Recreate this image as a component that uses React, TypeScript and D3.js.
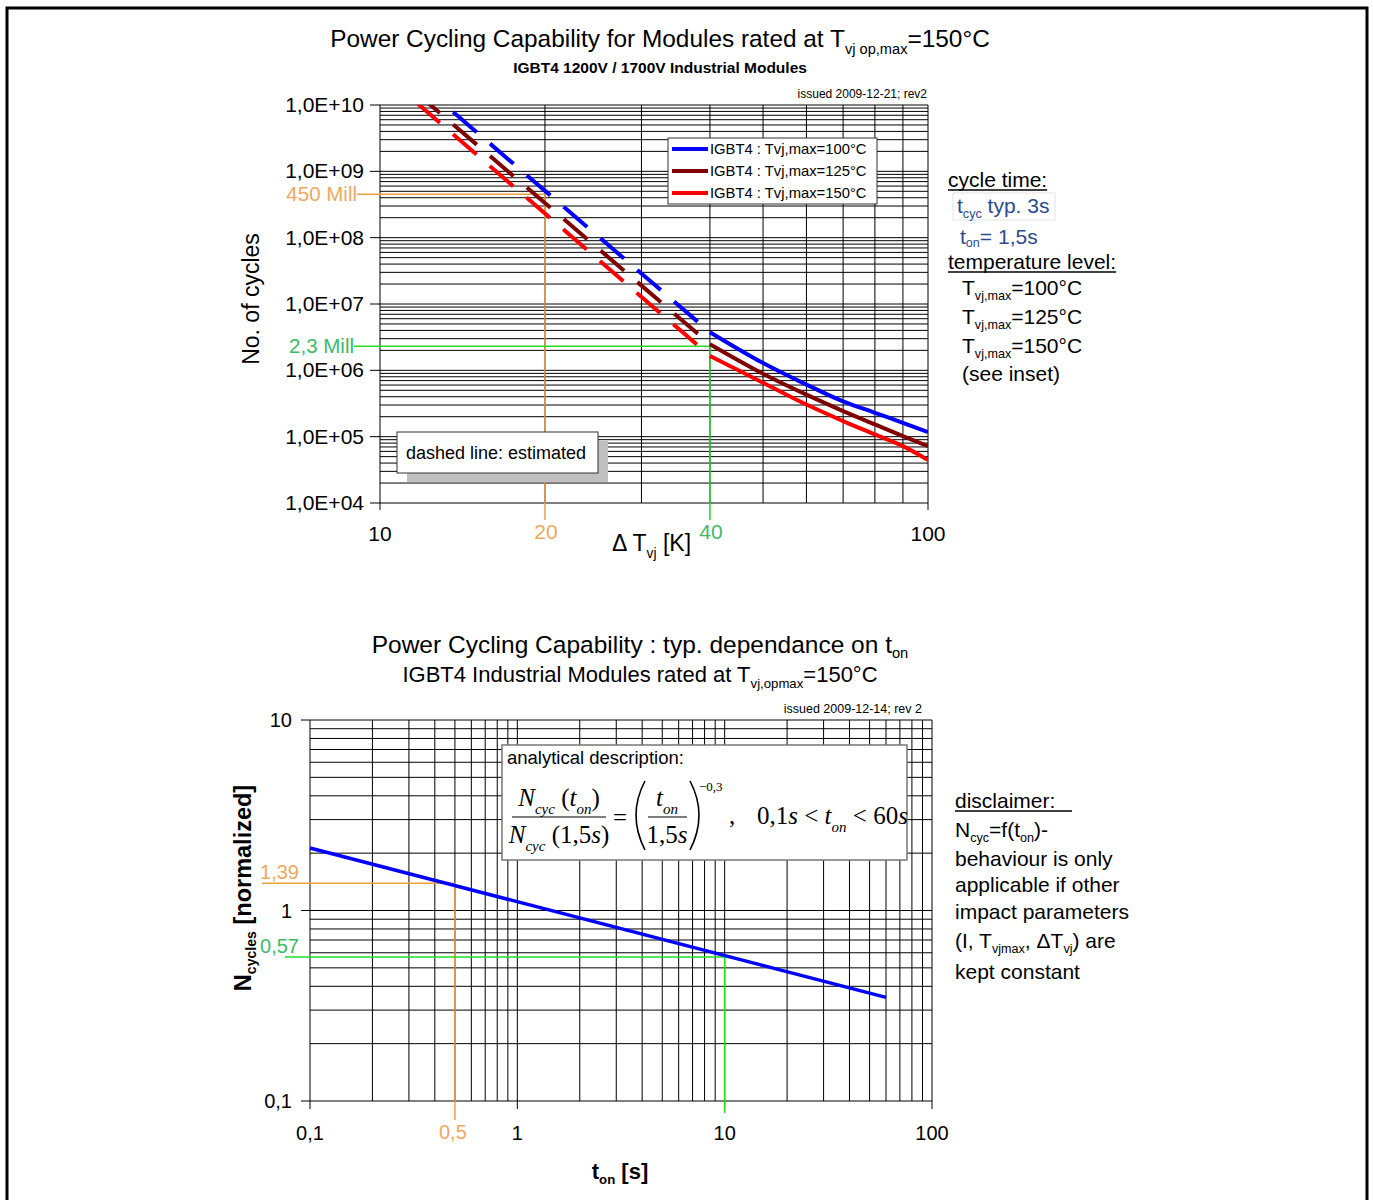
import React, { useEffect, useRef } from 'react';
import * as d3 from 'd3';

const SANS = "'Liberation Sans', Arial, Helvetica, sans-serif";
const SERIF = "'Liberation Serif', 'Times New Roman', serif";

// ---- top chart: number of cycles vs. delta T ----
const cycTicks = [1e4, 1e5, 1e6, 1e7, 1e8, 1e9, 1e10];
const dtTicks = [10, 100];
const dtMinor = [20, 30, 40, 50, 60, 70, 80, 90];
const decadeSteps = [2, 3, 4, 5, 6, 7, 8, 9];

const seriesLabels = ['IGBT4 : Tvj,max=100°C', 'IGBT4 : Tvj,max=125°C', 'IGBT4 : Tvj,max=150°C'];
const seriesColors = ['#0000ff', '#800000', '#ff0000'];

// measured part (solid)
const measuredDT = [40, 50, 60, 70, 80, 90, 100];
const measured100 = [3.76e6, 1.29e6, 6.1e5, 3.4e5, 2.29e5, 1.62e5, 1.17e5];
const measured125 = [2.48e6, 8.9e5, 4.3e5, 2.43e5, 1.53e5, 1.02e5, 7.2e4];
const measured150 = [1.65e6, 6.5e5, 3.05e5, 1.72e5, 1.08e5, 7.2e4, 4.45e4];

// estimated part (dashed)
const estimatedDT = [11.65, 40];
const estimated100 = [2.34e10, 3.76e6];
const estimated125 = [1.52e10, 2.48e6];
const estimated150 = [1.09e10, 1.65e6];

const markDT = [20, 40];
const markCycles = [4.5e8, 2.3e6];
const markLabels = ['450 Mill', '2,3 Mill'];

// ---- bottom chart: normalized cycles vs. t_on ----
const tonTicks = [0.1, 1, 10, 100];
const tonTickLabels = ['0,1', '1', '10', '100'];
const normTicks = [0.1, 1, 10];
const normTickLabels = ['0,1', '1', '10'];
const tonLine = [0.1, 60];
const normLine = [2.13, 0.35];
const tonMarks = [0.5, 10];
const normMarks = [1.39, 0.57];
const tonMarkLabels = ['0,5', ''];
const normMarkLabels = ['1,39', '0,57'];

const ORANGE_LINE = '#eea040';
const ORANGE_TEXT = '#f0a860';
const GREEN_LINE = '#22dd22';
const GREEN_TEXT = '#3dbb6a';

type Part = { t: string; sub?: boolean; sup?: boolean; italic?: boolean };

function richText(parent: any, x: number, y: number, parts: Part[], size: number, attrs: Record<string, any> = {}, subShift = 0.3) {
  const text = parent.append('text')
    .attr('x', x).attr('y', y)
    .attr('font-size', size)
    .attr('font-family', SANS)
    .attr('fill', '#000');
  Object.entries(attrs).forEach(([k, v]) => text.attr(k, v));
  let shift = 0;
  parts.forEach(p => {
    const target = p.sub ? size * subShift : p.sup ? -size * 0.5 : 0;
    const span = text.append('tspan').attr('dy', target - shift).text(p.t);
    if (p.sub || p.sup) span.attr('font-size', size * 0.6);
    if (p.italic) span.attr('font-style', 'italic');
    shift = target;
  });
  return text;
}

function underline(parent: any, text: any, color = '#000') {
  const node = text.node() as SVGTextElement;
  const x = +text.attr('x');
  const y = +text.attr('y');
  const w = node.getComputedTextLength();
  parent.append('line')
    .attr('x1', x).attr('x2', x + w)
    .attr('y1', y + 3).attr('y2', y + 3)
    .attr('stroke', color).attr('stroke-width', 1.3);
}

const App: React.FC = () => {
  const svgRef = useRef<SVGSVGElement>(null);

  useEffect(() => {
    if (!svgRef.current) return;
    const svg = d3.select(svgRef.current);
    svg.selectAll('*').remove();

    // page frame
    svg.append('path')
      .attr('d', 'M7,1215 V8 H1367 V1215')
      .attr('fill', 'none').attr('stroke', '#000').attr('stroke-width', 3);

    // ================= TOP CHART =================
    const xTop = d3.scaleLog().domain([10, 100]).range([380, 928]);
    const yTop = d3.scaleLog().domain([1e4, 1e10]).range([503, 105]);
    const top = svg.append('g');

    richText(top, 660, 47, [{ t: 'Power Cycling Capability for Modules rated at T' }, { t: 'vj op,max', sub: true }, { t: '=150°C' }], 24.4, { 'text-anchor': 'middle' });
    richText(top, 660, 73, [{ t: 'IGBT4 1200V / 1700V Industrial Modules' }], 15.5, { 'text-anchor': 'middle', 'font-weight': 'bold' });
    richText(top, 927, 98, [{ t: 'issued 2009-12-21; rev2' }], 12, { 'text-anchor': 'end' });

    // grid
    const hLines: number[] = [];
    cycTicks.forEach(d => {
      hLines.push(d);
      if (d < 1e10) decadeSteps.forEach(k => hLines.push(d * k));
    });
    top.append('g').selectAll('line').data(hLines).join('line')
      .attr('x1', xTop(10)).attr('x2', xTop(100))
      .attr('y1', d => yTop(d)).attr('y2', d => yTop(d))
      .attr('stroke', '#000').attr('stroke-width', 1);
    top.append('g').selectAll('line').data([...dtTicks, ...dtMinor]).join('line')
      .attr('x1', d => xTop(d)).attr('x2', d => xTop(d))
      .attr('y1', yTop(1e4)).attr('y2', yTop(1e10))
      .attr('stroke', '#000').attr('stroke-width', 1);

    // y axis ticks + labels
    top.append('g').selectAll('line').data(cycTicks).join('line')
      .attr('x1', 370).attr('x2', xTop(10))
      .attr('y1', d => yTop(d)).attr('y2', d => yTop(d))
      .attr('stroke', '#000');
    top.append('g').selectAll('text').data(cycTicks).join('text')
      .attr('x', 364).attr('y', d => yTop(d) + 7)
      .attr('text-anchor', 'end').attr('font-family', SANS).attr('font-size', 21)
      .text(d => `1,0E+${String(Math.round(Math.log10(d))).padStart(2, '0')}`);
    // x ticks
    top.append('g').selectAll('line').data(dtTicks).join('line')
      .attr('x1', d => xTop(d)).attr('x2', d => xTop(d))
      .attr('y1', yTop(1e4)).attr('y2', yTop(1e4) + 7)
      .attr('stroke', '#000');
    top.append('g').selectAll('text').data(dtTicks).join('text')
      .attr('x', d => xTop(d)).attr('y', 541)
      .attr('text-anchor', 'middle').attr('font-family', SANS).attr('font-size', 21)
      .text(d => String(d));

    richText(top, 612, 551, [{ t: 'Δ T' }, { t: 'vj', sub: true }, { t: ' [K]' }], 23);
    richText(top, 259, 299, [{ t: 'No. of cycles' }], 23, { 'text-anchor': 'middle', transform: 'rotate(-90,259,299)' });

    // marker lines (450 Mill @ 20K, 2,3 Mill @ 40K)
    const markColors = [ORANGE_LINE, GREEN_LINE];
    const markTextColors = [ORANGE_TEXT, GREEN_TEXT];
    const markStart = [357, 354];
    markDT.forEach((dt, i) => {
      const y = yTop(markCycles[i]);
      const x = xTop(dt);
      top.append('line').attr('x1', markStart[i]).attr('x2', x).attr('y1', y).attr('y2', y)
        .attr('stroke', markColors[i]).attr('stroke-width', 1.5);
      top.append('line').attr('x1', x).attr('x2', x).attr('y1', y).attr('y2', 520)
        .attr('stroke', markColors[i]).attr('stroke-width', 1.5);
      top.append('text').attr('x', markStart[i]).attr('y', y + 7)
        .attr('text-anchor', 'end').attr('font-family', SANS).attr('font-size', 20.5)
        .attr('fill', markTextColors[i]).text(markLabels[i]);
      top.append('text').attr('x', x + 1).attr('y', 539)
        .attr('text-anchor', 'middle').attr('font-family', SANS).attr('font-size', 21)
        .attr('fill', markTextColors[i]).text(String(dt));
    });

    // curves
    top.append('clipPath').attr('id', 'topClip').append('rect')
      .attr('x', xTop(10)).attr('y', yTop(1e10))
      .attr('width', xTop(100) - xTop(10)).attr('height', yTop(1e4) - yTop(1e10));
    const curveG = top.append('g').attr('clip-path', 'url(#topClip)');
    const line = d3.line<[number, number]>()
      .x(d => xTop(d[0])).y(d => yTop(d[1]))
      .curve(d3.curveMonotoneX);
    const measured = [measured100, measured125, measured150];
    const estimated = [estimated100, estimated125, estimated150];
    measured.forEach((vals, i) => {
      curveG.append('path')
        .attr('d', line(measuredDT.map((d, j) => [d, vals[j]] as [number, number])))
        .attr('fill', 'none').attr('stroke', seriesColors[i]).attr('stroke-width', 4);
    });
    estimated.forEach((vals, i) => {
      curveG.append('path')
        .attr('d', line(estimatedDT.map((d, j) => [d, vals[j]] as [number, number])))
        .attr('fill', 'none').attr('stroke', seriesColors[i]).attr('stroke-width', 4)
        .attr('stroke-dasharray', '31 17.5');
    });

    // legend
    const lg = top.append('g').attr('transform', 'translate(668,138)');
    lg.append('rect').attr('width', 209).attr('height', 66)
      .attr('fill', '#fff').attr('stroke', '#333').attr('stroke-width', 1);
    seriesLabels.forEach((s, i) => {
      lg.append('line').attr('x1', 4).attr('x2', 40).attr('y1', 11 + i * 22).attr('y2', 11 + i * 22)
        .attr('stroke', seriesColors[i]).attr('stroke-width', 4);
      lg.append('text').attr('x', 42).attr('y', 16 + i * 22)
        .attr('font-family', SANS).attr('font-size', 14.8).text(s);
    });

    // "dashed line: estimated" note
    top.append('rect').attr('x', 407).attr('y', 441).attr('width', 201).attr('height', 41).attr('fill', '#c0c0c0');
    top.append('rect').attr('x', 397).attr('y', 432).attr('width', 201).attr('height', 41)
      .attr('fill', '#fff').attr('stroke', '#333').attr('stroke-width', 1);
    richText(top, 406, 459, [{ t: 'dashed line: estimated' }], 18);

    // right side notes
    underline(top, richText(top, 948, 187, [{ t: 'cycle time:' }], 21));
    top.append('rect').attr('x', 953).attr('y', 193).attr('width', 102).attr('height', 27)
      .attr('fill', 'none').attr('stroke', '#e4e4e4');
    richText(top, 957, 213, [{ t: 't' }, { t: 'cyc', sub: true }, { t: ' typ. 3s' }], 21, { fill: '#2b4a8c' }, 0.22);
    richText(top, 960, 244, [{ t: 't' }, { t: 'on', sub: true }, { t: '= 1,5s' }], 21, { fill: '#2b4a8c' }, 0.15);
    underline(top, richText(top, 948, 269, [{ t: 'temperature level:' }], 21));
    ['100', '125', '150'].forEach((v, i) => {
      richText(top, 962, 295 + i * 29, [{ t: 'T' }, { t: 'vj,max', sub: true }, { t: `=${v}°C` }], 21, {}, 0.22);
    });
    richText(top, 962, 381, [{ t: '(see inset)' }], 21);

    // ================= BOTTOM CHART =================
    const xBot = d3.scaleLog().domain([0.1, 100]).range([310, 932]);
    const yBot = d3.scaleLog().domain([0.1, 10]).range([1101, 720]);
    const bot = svg.append('g');

    richText(bot, 640, 653, [{ t: 'Power Cycling Capability : typ. dependance on t' }, { t: 'on', sub: true }], 24.5, { 'text-anchor': 'middle' }, 0.22);
    richText(bot, 640, 682, [{ t: 'IGBT4 Industrial Modules rated at T' }, { t: 'vj,opmax', sub: true }, { t: '=150°C' }], 22, { 'text-anchor': 'middle' }, 0.25);
    richText(bot, 922, 713, [{ t: 'issued 2009-12-14; rev 2' }], 12.5, { 'text-anchor': 'end' });

    const vLines: number[] = [];
    tonTicks.forEach(d => {
      vLines.push(d);
      if (d < 100) decadeSteps.forEach(k => vLines.push(d * k));
    });
    const hLinesB: number[] = [];
    normTicks.forEach(d => {
      hLinesB.push(d);
      if (d < 10) decadeSteps.forEach(k => hLinesB.push(d * k));
    });
    bot.append('g').selectAll('line').data(vLines).join('line')
      .attr('x1', d => xBot(d)).attr('x2', d => xBot(d))
      .attr('y1', yBot(0.1)).attr('y2', yBot(10))
      .attr('stroke', '#000');
    bot.append('g').selectAll('line').data(hLinesB).join('line')
      .attr('x1', xBot(0.1)).attr('x2', xBot(100))
      .attr('y1', d => yBot(d)).attr('y2', d => yBot(d))
      .attr('stroke', '#000');

    bot.append('g').selectAll('line').data(normTicks).join('line')
      .attr('x1', 301).attr('x2', xBot(0.1))
      .attr('y1', d => yBot(d)).attr('y2', d => yBot(d)).attr('stroke', '#000');
    bot.append('g').selectAll('text').data(normTicks).join('text')
      .attr('x', 292).attr('y', d => yBot(d) + 7)
      .attr('text-anchor', 'end').attr('font-family', SANS).attr('font-size', 20)
      .text((d, i) => normTickLabels[i]);
    bot.append('g').selectAll('line').data(tonTicks).join('line')
      .attr('x1', d => xBot(d)).attr('x2', d => xBot(d))
      .attr('y1', yBot(0.1)).attr('y2', yBot(0.1) + 8).attr('stroke', '#000');
    bot.append('g').selectAll('text').data(tonTicks).join('text')
      .attr('x', d => xBot(d)).attr('y', 1140)
      .attr('text-anchor', 'middle').attr('font-family', SANS).attr('font-size', 20)
      .text((d, i) => tonTickLabels[i]);

    richText(bot, 620, 1179, [{ t: 't' }, { t: 'on', sub: true }, { t: ' [s]' }], 22, { 'text-anchor': 'middle', 'font-weight': 'bold' }, 0.22);
    richText(bot, 251, 888, [{ t: 'N' }, { t: 'cycles', sub: true }, { t: ' [normalized]' }], 23.5, { 'text-anchor': 'middle', 'font-weight': 'bold', transform: 'rotate(-90,251,888)' }, 0.22);

    // marker lines
    const bMarkColors = [ORANGE_LINE, GREEN_LINE];
    const bMarkText = [ORANGE_TEXT, GREEN_TEXT];
    const bMarkStart = [262, 285];
    const bMarkEnd = [1120, 1113];
    tonMarks.forEach((t, i) => {
      const x = xBot(t);
      const y = yBot(normMarks[i]);
      bot.append('line').attr('x1', bMarkStart[i]).attr('x2', x).attr('y1', y).attr('y2', y)
        .attr('stroke', bMarkColors[i]).attr('stroke-width', 1.5);
      bot.append('line').attr('x1', x).attr('x2', x).attr('y1', y).attr('y2', bMarkEnd[i])
        .attr('stroke', bMarkColors[i]).attr('stroke-width', 1.5);
      bot.append('text').attr('x', 299).attr('y', y - 4)
        .attr('text-anchor', 'end').attr('font-family', SANS).attr('font-size', 20)
        .attr('fill', bMarkText[i]).text(normMarkLabels[i]);
      if (tonMarkLabels[i]) {
        bot.append('text').attr('x', x - 2).attr('y', 1139)
          .attr('text-anchor', 'middle').attr('font-family', SANS).attr('font-size', 20)
          .attr('fill', bMarkText[i]).text(tonMarkLabels[i]);
      }
    });

    const bLine = d3.line<[number, number]>().x(d => xBot(d[0])).y(d => yBot(d[1]));
    bot.append('path')
      .attr('d', bLine(tonLine.map((t, i) => [t, normLine[i]] as [number, number])))
      .attr('fill', 'none').attr('stroke', '#0000ff').attr('stroke-width', 3.5);

    // analytical description box
    bot.append('rect').attr('x', 502).attr('y', 745).attr('width', 405).attr('height', 115)
      .attr('fill', '#fff').attr('stroke', '#777').attr('stroke-width', 1.5);
    richText(bot, 507, 764, [{ t: 'analytical description:' }], 18.5);
    const f = bot.append('g');
    const fs = 25;
    richText(f, 559, 806, [{ t: 'N', italic: true }, { t: 'cyc', sub: true, italic: true }, { t: ' (' }, { t: 't', italic: true }, { t: 'on', sub: true, italic: true }, { t: ')' }], fs, { 'text-anchor': 'middle', 'font-family': SERIF });
    f.append('line').attr('x1', 512).attr('x2', 606).attr('y1', 817).attr('y2', 817).attr('stroke', '#000').attr('stroke-width', 1.2);
    richText(f, 559, 843, [{ t: 'N', italic: true }, { t: 'cyc', sub: true, italic: true }, { t: ' (1,5' }, { t: 's', italic: true }, { t: ')' }], fs, { 'text-anchor': 'middle', 'font-family': SERIF });
    richText(f, 620, 826, [{ t: '=' }], fs, { 'text-anchor': 'middle', 'font-family': SERIF });
    f.append('path').attr('d', 'M645,781 Q627,815 645,850').attr('fill', 'none').attr('stroke', '#000').attr('stroke-width', 1.6);
    f.append('path').attr('d', 'M690,781 Q708,815 690,850').attr('fill', 'none').attr('stroke', '#000').attr('stroke-width', 1.6);
    richText(f, 667, 806, [{ t: 't', italic: true }, { t: 'on', sub: true, italic: true }], fs, { 'text-anchor': 'middle', 'font-family': SERIF });
    f.append('line').attr('x1', 648).attr('x2', 687).attr('y1', 817).attr('y2', 817).attr('stroke', '#000').attr('stroke-width', 1.2);
    richText(f, 667, 843, [{ t: '1,5' }, { t: 's', italic: true }], fs, { 'text-anchor': 'middle', 'font-family': SERIF });
    richText(f, 699, 791, [{ t: '−0,3' }], 13, { 'font-family': SERIF });
    richText(f, 729, 824, [{ t: ',' }], fs, { 'font-family': SERIF });
    richText(f, 757, 824, [{ t: '0,1' }, { t: 's', italic: true }, { t: ' < ' }, { t: 't', italic: true }, { t: 'on', sub: true, italic: true }, { t: ' < 60' }, { t: 's', italic: true }], fs, { 'font-family': SERIF });

    // disclaimer
    richText(bot, 955, 808, [{ t: 'disclaimer:' }], 21);
    bot.append('line').attr('x1', 955).attr('x2', 1072).attr('y1', 811).attr('y2', 811).attr('stroke', '#000').attr('stroke-width', 1.3);
    richText(bot, 955, 837, [{ t: 'N' }, { t: 'cyc', sub: true }, { t: '=f(t' }, { t: 'on', sub: true }, { t: ')-' }], 21, {}, 0.22);
    richText(bot, 955, 866, [{ t: 'behaviour is only' }], 21);
    richText(bot, 955, 892, [{ t: 'applicable if other' }], 21);
    richText(bot, 955, 919, [{ t: 'impact parameters' }], 21);
    richText(bot, 955, 948, [{ t: '(I, T' }, { t: 'vjmax', sub: true }, { t: ', ΔT' }, { t: 'vj', sub: true }, { t: ') are' }], 21, {}, 0.22);
    richText(bot, 955, 979, [{ t: 'kept constant' }], 21);
  }, []);

  return (
    <svg
      ref={svgRef}
      width={1373}
      height={1200}
      style={{ position: 'absolute', left: 0, top: 0, background: '#fff' }}
    />
  );
};

export default App;
